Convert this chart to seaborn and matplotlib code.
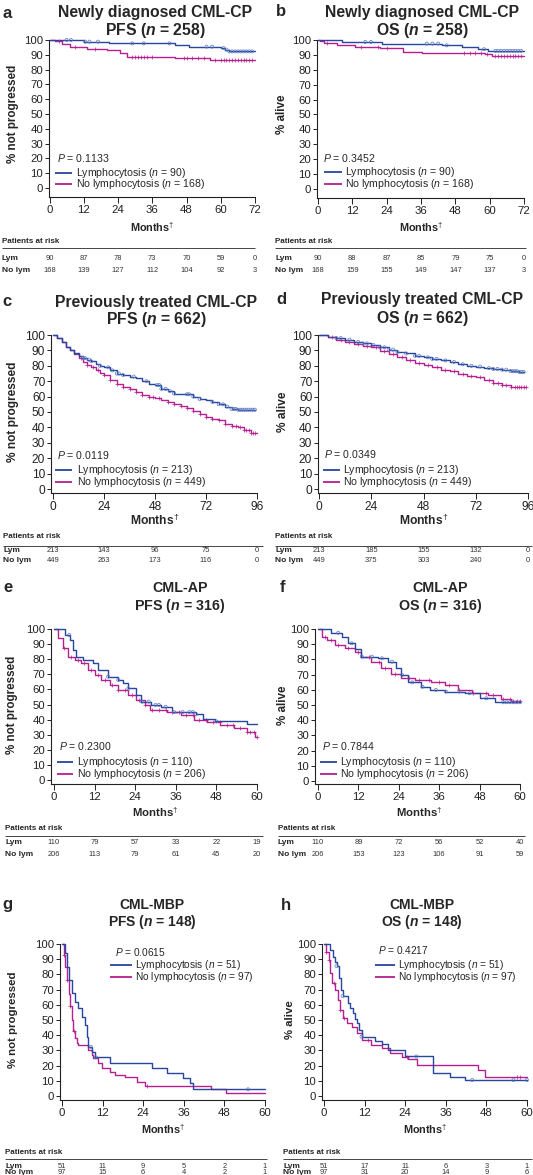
import numpy as np
import pandas as pd
import seaborn as sns
import matplotlib.pyplot as plt
from matplotlib.lines import Line2D
from matplotlib.transforms import blended_transform_factory

BLUE = '#27479c'
MAG = '#b51f8f'

months_72 = [0, 12, 24, 36, 48, 60, 72]
months_96 = [0, 24, 48, 72, 96]
months_60 = [0, 12, 24, 36, 48, 60]
pct_ticks = [0, 10, 20, 30, 40, 50, 60, 70, 80, 90, 100]

# ---- a: newly diagnosed CML-CP, PFS
a_lym_t = [0, 12, 21, 44, 49, 60, 61.5, 63, 72]
a_lym_s = [100, 98.9, 97.7, 96.6, 95.5, 94.5, 93.5, 92.3, 92.3]
a_nolym_t = [0, 2, 4.4, 7.3, 13.2, 20.2, 24.8, 27.2, 44, 56.3, 72]
a_nolym_s = [100, 99, 97, 95, 94, 93, 91.5, 88.5, 87.5, 86.5, 86.5]
a_lym_cens = [6, 7.5, 12.5, 14, 17, 29, 33, 42, 55, 57, 61, 62, 63, 64, 65, 66, 67, 68, 69, 70, 71]
a_nolym_cens = [3.5, 9, 16, 29, 30, 31, 32, 33, 34, 36, 47, 48, 50, 52, 54, 58, 60, 61, 62, 63,
                64, 65, 66, 67, 68, 69, 70, 71]
a_risk_lym = [90, 87, 78, 73, 70, 59, 0]
a_risk_nolym = [168, 139, 127, 112, 104, 92, 3]

# ---- b: newly diagnosed CML-CP, OS
b_lym_t = [0, 8.3, 22.3, 43.2, 50.2, 56, 59.5, 72]
b_lym_s = [100, 98.7, 97.6, 96.4, 95.3, 93.8, 92.7, 92.7]
b_nolym_t = [0, 0.7, 2, 6.5, 12.9, 21.7, 29.8, 36.2, 58.4, 60.7, 72]
b_nolym_s = [100, 99, 98, 96.5, 95.5, 94.5, 92.2, 91, 90.5, 89.3, 89.3]
b_lym_cens = [16.5, 18.5, 38, 40, 42, 45, 58, 62, 63, 64, 65, 66, 67, 68, 69, 70, 71]
b_nolym_cens = [3, 15, 21, 24, 51, 53, 55, 57, 59, 62, 63, 64, 65, 66, 67, 68, 69, 70, 71]
b_risk_lym = [90, 88, 87, 85, 79, 75, 0]
b_risk_nolym = [168, 159, 155, 149, 147, 137, 3]

# ---- c: previously treated CML-CP, PFS
c_lym_t = [0, 2, 4, 6, 8, 10, 12, 14, 16, 18, 20, 22, 24, 27, 30, 33, 36, 39, 42, 45, 48, 51,
           54, 57, 60, 63, 66, 69, 72, 75, 78, 81, 84, 87, 90, 95]
c_lym_s = [100, 98, 95.5, 92.5, 90, 88, 86.5, 85, 84, 83, 81, 80, 79, 77, 75, 74, 73, 72, 70,
           68.5, 67.5, 65, 63.5, 62, 62, 61.5, 60, 58.5, 57.5, 56.5, 55, 53.5, 52, 51.5, 51.5, 51.5]
c_nolym_t = [0, 2, 4, 6, 8, 10, 12, 14, 16, 18, 20, 22, 24, 27, 30, 33, 36, 39, 42, 45, 48, 51,
             54, 57, 60, 63, 66, 69, 72, 75, 78, 81, 84, 87, 90, 93, 96]
c_nolym_s = [100, 98, 95.5, 92.5, 90, 87.5, 85, 82.5, 80.5, 79, 77, 75.5, 74, 71, 68.5, 66.5, 65,
             63, 61, 60, 59, 57.5, 56.5, 55, 54, 52.5, 50.5, 48.5, 47, 45.5, 44.5, 42, 41, 40, 38,
             36.5, 36.5]
c_lym_cens = [14, 15, 17, 18, 22, 26, 28, 30, 31, 33, 38, 44, 49, 50, 51, 53, 55, 57, 63, 64, 66,
              69, 75, 78, 80, 82, 84, 85, 86, 87, 88, 89, 90, 91, 92, 93, 94, 95]
c_nolym_cens = [13, 16, 19, 21, 24, 27, 30, 33, 36, 39, 42, 45, 47, 50, 54, 57, 60, 63, 66, 69,
                72, 75, 78, 81, 84, 86, 88, 90, 91, 92, 93, 94, 95]
c_risk_lym = [213, 143, 96, 75, 0]
c_risk_nolym = [449, 263, 173, 116, 0]

# ---- d: previously treated CML-CP, OS
d_lym_t = [0, 4, 8, 12, 16, 20, 24, 28, 32, 36, 40, 44, 48, 52, 56, 60, 64, 68, 72, 76, 80, 84,
           88, 92, 94]
d_lym_s = [100, 99, 98, 97, 95.5, 94.5, 93.5, 92, 90.5, 89, 88, 86.5, 85.5, 84.5, 83.5, 82.5, 81,
           80, 79.5, 78.5, 78, 77.5, 76.5, 76, 76]
d_nolym_t = [0, 4, 8, 12, 16, 20, 24, 28, 32, 36, 40, 44, 48, 52, 56, 60, 64, 68, 72, 76, 80, 84,
             88, 92, 95]
d_nolym_s = [100, 98.5, 97, 95.5, 94, 93, 92, 89.5, 87.5, 85.5, 83.5, 82, 80.5, 79, 77.5, 76.5,
             75, 73.5, 72.5, 71, 69, 67.5, 66.5, 66, 66]
d_lym_cens = [8, 10, 14, 18, 20, 22, 25, 28, 30, 32, 34, 36, 40, 44, 46, 50, 52, 54, 58, 62, 66,
              70, 74, 78, 80, 82, 84, 86, 88, 89, 90, 91, 92, 93, 94]
d_nolym_cens = [6, 10, 14, 18, 22, 26, 30, 34, 38, 42, 46, 50, 54, 58, 62, 66, 70, 74, 78, 80, 82,
                84, 86, 88, 90, 91, 92, 93, 94, 95]
d_risk_lym = [213, 185, 155, 132, 0]
d_risk_nolym = [449, 375, 303, 240, 0]

# ---- e: CML-AP, PFS
e_lym_t = [0, 3.2, 4.6, 5.6, 6.6, 8.6, 11.5, 13, 16, 18.9, 20.4, 21.9, 24.3, 25.8, 28.8, 31.5,
           35, 42, 44, 47.5, 57, 60]
e_lym_s = [100, 96, 92.7, 86, 81.7, 79.5, 77.3, 72.8, 68.4, 66.2, 64, 60.7, 56.3, 51.9, 49.7,
           48.5, 45, 43.5, 40.5, 38.8, 37, 37]
e_nolym_t = [0, 1.2, 2.7, 4.1, 6.1, 8.1, 10, 12, 14, 16.5, 18.9, 21.9, 24.3, 26.8, 28.5, 33.5,
             37.4, 41.3, 45.3, 49.2, 53.1, 57, 59.5, 60]
e_nolym_s = [100, 93.8, 87.2, 81.7, 79.5, 77.3, 72.8, 69.5, 66.2, 62.9, 59.6, 56.3, 53, 49.7,
             46.4, 45.3, 43, 39.7, 38.6, 36.4, 34.2, 32, 28.7, 28.7]
e_lym_cens = [4.5, 16, 19, 22, 26, 28, 30, 31, 33, 35.5, 38, 40, 41, 42, 48]
e_nolym_cens = [3, 5, 7, 9, 11, 13, 15, 17, 19, 21, 23, 25, 27, 29, 31, 33, 35, 37, 39, 41, 43,
                45, 47, 49, 51, 53, 55, 57, 58, 59, 60]
e_risk_lym = [110, 79, 57, 33, 22, 19]
e_risk_nolym = [206, 113, 79, 61, 45, 20]

# ---- f: CML-AP, OS
f_lym_t = [0, 4, 7, 8.9, 10.9, 12.9, 17.8, 20.8, 23.3, 24.8, 26.8, 30.7, 33.2, 37.7, 43.6, 48,
           52.5, 60]
f_lym_s = [100, 97.5, 95, 90.6, 86.8, 81.8, 80.7, 78.5, 74.1, 69.7, 64.9, 62, 59.9, 58.8, 57.7,
           54.4, 51.8, 51.8]
f_nolym_t = [0, 1.1, 2.6, 5.1, 8, 10.9, 12.9, 15.8, 18.8, 21.8, 24.8, 28.8, 33.7, 37.7, 41.6,
             45.6, 50.5, 54.5, 57.4, 60]
f_nolym_s = [100, 95, 92.8, 89.5, 87.3, 85.1, 81.8, 78.5, 74.1, 70.2, 67.5, 66.4, 64.9, 63.2,
             59.9, 57.7, 56.6, 54, 52.5, 52.5]
f_lym_cens = [6, 10, 13, 16, 19, 22, 25, 28, 31, 35, 38, 42, 45, 50, 55, 56, 57, 58, 59, 60]
f_nolym_cens = [2, 4, 6, 9, 12, 15, 18, 20, 23, 27, 30, 33, 36, 39, 42, 46, 50, 52, 55, 57, 58,
                59, 60]
f_risk_lym = [110, 89, 72, 56, 52, 40]
f_risk_nolym = [206, 153, 123, 106, 91, 59]

# ---- g: CML-MBP, PFS
g_lym_t = [0, 0.9, 1.4, 2.2, 2.9, 3.8, 4.8, 5.8, 6.8, 7.3, 7.8, 8.8, 9.8, 14.2, 26.5, 30.9, 35.8,
           37.9, 38.6, 60]
g_lym_s = [100, 94, 85, 76.3, 67.5, 62, 57.7, 52.2, 46.7, 39, 32.4, 29.1, 25.4, 21.9, 18.2, 14.9,
           11.6, 8.3, 4.4, 4.4]
g_nolym_t = [0, 0.5, 1, 1.4, 2, 2.4, 2.9, 3.3, 3.8, 4.3, 4.8, 7.8, 8.8, 9.3, 10.7, 11.7, 14.2,
             15.7, 18.6, 22.1, 24.5, 44, 48.6, 60]
g_nolym_s = [100, 93, 85, 76, 67, 59, 50, 43, 38, 35, 33.6, 30.3, 27, 24.8, 21.5, 18.2, 16, 13.8,
             12.7, 9.4, 6.9, 4.4, 2.2, 2.2]
g_lym_cens = [8.5, 10, 55]
g_nolym_cens = [0.5, 1.5, 2.5, 3.5, 25]
g_risk_lym = [51, 11, 9, 5, 2, 1]
g_risk_nolym = [97, 15, 6, 4, 2, 1]

# ---- h: CML-MBP, OS
h_lym_t = [0, 1.8, 2.8, 3.3, 3.7, 4.4, 5.0, 5.5, 7.0, 7.7, 8.7, 9.2, 9.7, 10.3, 11.1, 15.1, 17.1,
           19, 24, 32.3, 37.2, 41.7, 60]
h_lym_s = [100, 96, 91.7, 88.4, 85.5, 77.4, 69.7, 65.8, 61, 57.7, 54.4, 50.4, 47.8, 43.4, 39,
           36.5, 34, 30, 26, 15, 12.7, 10.5, 10.5]
h_nolym_t = [0, 0.6, 1.4, 1.8, 2.3, 3.3, 4.1, 4.7, 5.7, 6.7, 8.2, 9.7, 11.1, 14, 17.1, 19.5, 23,
             24.9, 27.4, 45.5, 47.6, 60]
h_nolym_s = [100, 95, 89.5, 80.7, 74.1, 69.7, 63.2, 56.6, 51.1, 48.2, 45.6, 41.2, 36.8, 33.6,
             31.4, 28.1, 25.9, 24.5, 20.4, 17.1, 12.7, 12.7]
h_lym_cens = [3.7, 5.5, 11.1, 27.3, 43.8, 56, 60]
h_nolym_cens = [0.6, 1.5, 3, 4.8, 6, 13, 24.5, 57, 58]
h_risk_lym = [51, 17, 11, 6, 3, 1]
h_risk_nolym = [97, 31, 20, 14, 9, 6]

# layout in pixels
panels = [
    dict(letter='a', title=('Newly diagnosed CML-CP', r'PFS ($\mathbfit{n}$ = 258)'), ylab='% not progressed',
         ticks=months_72, lym=(a_lym_t, a_lym_s, a_lym_cens), nolym=(a_nolym_t, a_nolym_s, a_nolym_cens),
         risk=(a_risk_lym, a_risk_nolym), p='0.1133', n=(90, 168),
         box=(49, 49.5, 255, 40, 188, 197), head=(7, 13, 155, 13, 31), ylx=13, mty=227,
         leg=(57, 158, 55, 72, 76, 173, 184), table=(2, 255, 242, 248, 258, 271),
         fs=dict(tick=8.2, month=7.8, ylab=8.4, leg=7.6, title=11.3)),
    dict(letter='b', title=('Newly diagnosed CML-CP', r'OS ($\mathbfit{n}$ = 258)'), ylab='% alive',
         ticks=months_72, lym=(b_lym_t, b_lym_s, b_lym_cens), nolym=(b_nolym_t, b_nolym_s, b_nolym_cens),
         risk=(b_risk_lym, b_risk_nolym), p='0.3452', n=(90, 168),
         box=(317, 318, 524, 40, 189, 198), head=(281, 12, 422, 12, 30), ylx=282, mty=227,
         leg=(323, 158, 324, 342, 345, 172, 184), table=(275, 526, 242, 248, 258, 271),
         fs=dict(tick=8.2, month=7.8, ylab=8.4, leg=7.6, title=11.3)),
    dict(letter='c', title=('Previously treated CML-CP', r'PFS ($\mathbfit{n}$ = 662)'), ylab='% not progressed',
         ticks=months_96, lym=(c_lym_t, c_lym_s, c_lym_cens), nolym=(c_nolym_t, c_nolym_s, c_nolym_cens),
         risk=(c_risk_lym, c_risk_nolym), p='0.0119', n=(213, 449),
         box=(51, 53, 257, 335, 489, 493), head=(7, 302, 156, 302, 320), ylx=13, mty=520,
         leg=(57, 455, 55, 72, 77, 470, 482), table=(3, 263, 537, 546, 551, 560),
         fs=dict(tick=8.6, month=8.7, ylab=8.6, leg=7.6, title=11.3)),
    dict(letter='d', title=('Previously treated CML-CP', r'OS ($\mathbfit{n}$ = 662)'), ylab='% alive',
         ticks=months_96, lym=(d_lym_t, d_lym_s, d_lym_cens), nolym=(d_nolym_t, d_nolym_s, d_nolym_cens),
         risk=(d_risk_lym, d_risk_nolym), p='0.0349', n=(213, 449),
         box=(318, 319, 528, 335, 489, 493), head=(281, 300, 422, 300, 319), ylx=283, mty=520,
         leg=(324, 454, 323, 340, 343, 470, 482), table=(275, 532, 537, 546, 551, 560),
         fs=dict(tick=8.6, month=8.7, ylab=8.6, leg=7.6, title=11.3)),
    dict(letter='e', title=('CML-AP', r'PFS ($\mathbfit{n}$ = 316)'), ylab='% not progressed',
         ticks=months_60, lym=(e_lym_t, e_lym_s, e_lym_cens), nolym=(e_nolym_t, e_nolym_s, e_nolym_cens),
         risk=(e_risk_lym, e_risk_nolym), p='0.2300', n=(110, 206),
         box=(51, 54, 257, 629, 780, 784), head=(8, 588, 180, 588, 606), ylx=12, mty=812,
         leg=(59, 746, 57, 73, 77, 762, 774), table=(5, 263, 829, 836, 842, 855),
         fs=dict(tick=8.2, month=8.2, ylab=8.4, leg=7.6, title=10.3)),
    dict(letter='f', title=('CML-AP', r'OS ($\mathbfit{n}$ = 316)'), ylab='% alive',
         ticks=months_60, lym=(f_lym_t, f_lym_s, f_lym_cens), nolym=(f_nolym_t, f_nolym_s, f_nolym_cens),
         risk=(f_risk_lym, f_risk_nolym), p='0.7844', n=(110, 206),
         box=(315, 318, 520, 629, 781, 784), head=(283, 588, 440, 588, 606), ylx=283, mty=812,
         leg=(322, 746, 320, 337, 340, 762, 774), table=(278, 525, 829, 836, 842, 855),
         fs=dict(tick=8.2, month=8.2, ylab=8.4, leg=7.6, title=10.3)),
    dict(letter='g', title=('CML-MBP', r'PFS ($\mathbfit{n}$ = 148)'), ylab='% not progressed',
         ticks=months_60, lym=(g_lym_t, g_lym_s, g_lym_cens), nolym=(g_nolym_t, g_nolym_s, g_nolym_cens),
         risk=(g_risk_lym, g_risk_nolym), p='0.0615', n=(51, 97),
         box=(60, 62, 265, 944, 1096, 1100), head=(7, 905, 152, 905, 922), ylx=13, mty=1129,
         leg=(115, 952, 110, 132, 135, 965, 977), table=(5, 267, 1153, 1159, 1166, 1173),
         fs=dict(tick=8.2, month=7.8, ylab=8.2, leg=7.3, title=10.0)),
    dict(letter='h', title=('CML-MBP', r'OS ($\mathbfit{n}$ = 148)'), ylab='% alive',
         ticks=months_60, lym=(h_lym_t, h_lym_s, h_lym_cens), nolym=(h_nolym_t, h_nolym_s, h_nolym_cens),
         risk=(h_risk_lym, h_risk_nolym), p='0.4217', n=(51, 97),
         box=(322, 324, 527, 944, 1096, 1100), head=(286, 905, 422, 905, 922), ylx=290, mty=1129,
         leg=(378, 950, 375, 395, 398, 965, 977), table=(283, 532, 1153, 1159, 1166, 1173),
         fs=dict(tick=8.2, month=7.8, ylab=8.2, leg=7.3, title=10.0)),
]

sns.set_style('ticks')
plt.rcParams['font.family'] = ['Liberation Sans', 'DejaVu Sans']
plt.rcParams['mathtext.fontset'] = 'custom'
plt.rcParams['mathtext.rm'] = 'Liberation Sans'
plt.rcParams['mathtext.it'] = 'Liberation Sans:italic'
plt.rcParams['mathtext.bf'] = 'Liberation Sans:bold'
plt.rcParams['mathtext.bfit'] = 'Liberation Sans:italic:bold'

W, H = 533, 1175
fig = plt.figure(figsize=(W / 100, H / 100), dpi=100)


def fx(px):
    return px / W


def fy(py):
    return 1 - py / H


def hline(x0, x1, y, color, lw):
    fig.add_artist(Line2D([fx(x0), fx(x1)], [fy(y), fy(y)], transform=fig.transFigure,
                          color=color, lw=lw, solid_capstyle='butt'))


for p in panels:
    spine, t0, tmax, y100, y0, xaxis = p['box']
    ticks = p['ticks']
    xmax = ticks[-1]
    fs = p['fs']
    ax = fig.add_axes([fx(spine), fy(xaxis), (tmax - spine) / W, (xaxis - y100) / H])

    for (t, s, cens), col, mk in [(p['nolym'], MAG, '+'), (p['lym'], BLUE, 'o')]:
        df = pd.DataFrame({'month': t, 'pct': s})
        sns.lineplot(data=df, x='month', y='pct', ax=ax, color=col, lw=1.0,
                     drawstyle='steps-post', estimator=None, sort=False, clip_on=False)
        idx = np.searchsorted(np.asarray(t), np.asarray(cens), side='right') - 1
        cy = np.asarray(s)[idx]
        if mk == 'o':
            sns.scatterplot(x=cens, y=cy, ax=ax, marker='o', s=5, color='none',
                            edgecolor='#5a78c0', linewidth=0.5, zorder=3, clip_on=False)
        else:
            sns.scatterplot(x=cens, y=cy, ax=ax, marker='+', s=8, color=col,
                            linewidth=0.5, zorder=3, clip_on=False)

    ax.set_xlim(-(t0 - spine) / (tmax - t0) * xmax, xmax)
    ax.set_ylim(-(xaxis - y0) / (y0 - y100) * 100, 100)
    ax.set_xticks(ticks)
    ax.set_yticks(pct_ticks)
    ax.set_xlabel('')
    ax.set_ylabel('')
    sns.despine(ax=ax)
    for sp in ['left', 'bottom']:
        ax.spines[sp].set_linewidth(0.8)
        ax.spines[sp].set_color('#222222')
    ax.tick_params(axis='both', length=3, width=0.7, pad=1.2, labelsize=fs['tick'], colors='#222222')
    ax.tick_params(axis='x', length=4, pad=2)

    # titles
    lx, ly, cx, y1, y2 = p['head']
    fig.text(fx(lx), fy(ly), p['letter'], ha='center', va='center', fontsize=12, weight='bold')
    fig.text(fx(cx), fy(y1), p['title'][0], ha='center', va='center', fontsize=fs['title'], weight='bold')
    fig.text(fx(cx), fy(y2), p['title'][1], ha='center', va='center', fontsize=fs['title'], weight='bold')

    # axis labels
    fig.text(fx(p['ylx']), fy((y100 + y0) / 2), p['ylab'], rotation=90, ha='center', va='center',
             fontsize=fs['ylab'], weight='bold')
    fig.text(fx((t0 + tmax) / 2), fy(p['mty']), r'Months$^{\dagger}$', ha='center', va='center',
             fontsize=fs['month'], weight='bold')

    # legend
    px_, py_, l0, l1, tx, yl, yn = p['leg']
    fig.text(fx(px_), fy(py_), r'$\it{P}$ = ' + p['p'], va='center', fontsize=fs['leg'])
    hline(l0, l1, yl, BLUE, 1.3)
    hline(l0, l1, yn, MAG, 1.3)
    fig.text(fx(tx), fy(yl), r'Lymphocytosis ($\it{n}$ = %d)' % p['n'][0], va='center', fontsize=fs['leg'])
    fig.text(fx(tx), fy(yn), r'No lymphocytosis ($\it{n}$ = %d)' % p['n'][1], va='center', fontsize=fs['leg'])

    # patients at risk
    left, right, yh, yline, ylym, yno = p['table']
    fig.text(fx(left), fy(yh), 'Patients at risk', va='center', fontsize=5.8, weight='bold')
    hline(left, right, yline, '#444444', 0.7)
    fig.text(fx(left), fy(ylym), 'Lym', va='center', fontsize=6.0, weight='bold')
    fig.text(fx(left), fy(yno), 'No lym', va='center', fontsize=6.0, weight='bold')
    tr = blended_transform_factory(ax.transData, fig.transFigure)
    for t, n1, n2 in zip(ticks, p['risk'][0], p['risk'][1]):
        ax.text(t, fy(ylym), str(n1), transform=tr, ha='center', va='center', fontsize=5.4, color='#333333')
        ax.text(t, fy(yno), str(n2), transform=tr, ha='center', va='center', fontsize=5.4, color='#333333')

plt.savefig('out.png', dpi=100)
